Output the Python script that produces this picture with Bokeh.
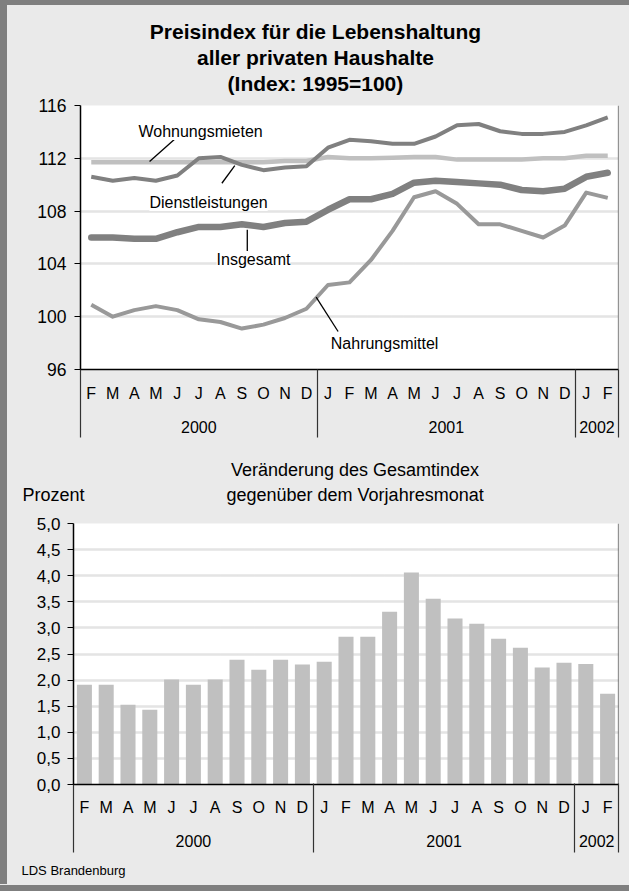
import numpy as np
from bokeh.plotting import figure
from bokeh.models import FixedTicker, LinearAxis, Label, Span, Range1d, Title, Spacer
from bokeh.layouts import column, row
from bokeh.embed import file_html
from bokeh.resources import INLINE

# ---------------- data ----------------
months = ["F", "M", "A", "M", "J", "J", "A", "S", "O", "N", "D",
          "J", "F", "M", "A", "M", "J", "J", "A", "S", "O", "N", "D",
          "J", "F"]
years = ["2000", "2001", "2002"]
months_per_year = [11, 12, 2]

wohnungsmieten = [111.7, 111.7, 111.7, 111.7, 111.7, 111.7, 111.7, 111.7, 111.7, 111.8, 111.8,
                  112.1, 112.0, 112.0, 112.05, 112.1, 112.1, 111.9, 111.9, 111.9, 111.9, 112.0, 112.0,
                  112.2, 112.2]
dienstleistungen = [110.6, 110.3, 110.5, 110.3, 110.7, 112.0, 112.1, 111.5, 111.1, 111.3, 111.4,
                    112.8, 113.4, 113.3, 113.1, 113.1, 113.65, 114.5, 114.6, 114.05, 113.85, 113.85, 114.0,
                    114.5, 115.1]
insgesamt = [106.0, 106.0, 105.9, 105.9, 106.4, 106.8, 106.8, 107.0, 106.8, 107.1, 107.2,
             108.1, 108.9, 108.9, 109.3, 110.15, 110.3, 110.2, 110.1, 110.0, 109.6, 109.5, 109.7,
             110.6, 110.9]
nahrungsmittel = [100.9, 100.0, 100.5, 100.8, 100.5, 99.8, 99.6, 99.1, 99.4, 99.9, 100.6,
                  102.4, 102.6, 104.3, 106.5, 109.05, 109.5, 108.55, 107.0, 107.0, 106.5, 106.0, 106.9,
                  109.4, 109.0]
veraenderung = [1.91, 1.91, 1.53, 1.43, 2.01, 1.91, 2.01, 2.39, 2.20, 2.39, 2.30,
                2.35, 2.83, 2.83, 3.31, 4.06, 3.56, 3.18, 3.08, 2.79, 2.62, 2.24, 2.33,
                2.31, 1.74]

y1_ticks = [96, 100, 104, 108, 112, 116]
y1_tick_labels = ["96", "100", "104", "108", "112", "116"]
y2_ticks = [0.0, 0.5, 1.0, 1.5, 2.0, 2.5, 3.0, 3.5, 4.0, 4.5, 5.0]
y2_tick_labels = ["0,0", "0,5", "1,0", "1,5", "2,0", "2,5", "3,0", "3,5", "4,0", "4,5", "5,0"]

title_lines = ["Preisindex für die Lebenshaltung", "aller privaten Haushalte", "(Index: 1995=100)"]
subtitle_lines = ["Veränderung des Gesamtindex", "gegenüber dem Vorjahresmonat"]
y2_label = "Prozent"
source_note = "LDS Brandenburg"

# ---------------- style ----------------
FONT = "Liberation Sans"
BG = "#eaeaea"
DARK = "#7f7f7f"
GRID = "#c8c8c8"
W = 622          # inner width (page is 629 wide, 7px dark band on the left)
R = 11

n = len(months)
xc = [i + 0.5 for i in range(n)]
bounds = [0.0] + [float(v) for v in np.cumsum(months_per_year)]
year_centers = [float((bounds[i] + bounds[i + 1]) / 2) for i in range(len(years))]


def base_fig(left, frame_h, ymin, ymax, top, bottom):
    p = figure(frame_width=W - left - R, frame_height=frame_h,
               x_range=Range1d(0, n), y_range=Range1d(ymin, ymax),
               output_backend="svg", toolbar_location=None, x_axis_type=None,
               min_border_left=left, min_border_right=R, min_border_top=top,
               min_border_bottom=bottom, background_fill_color="white",
               border_fill_color=BG, outline_line_color=None)
    return p


def add_x_axes(p, month_standoff, year_standoff, sep_in, sep_out):
    ax_m = LinearAxis(ticker=FixedTicker(ticks=xc, minor_ticks=[]),
                      major_label_overrides={x: m for x, m in zip(xc, months)},
                      major_tick_out=0, major_tick_in=0, minor_tick_out=0, minor_tick_in=0,
                      major_tick_line_color=None, minor_tick_line_color=None,
                      axis_line_color="black", axis_line_width=1.5,
                      major_label_standoff=month_standoff,
                      major_label_text_font=FONT, major_label_text_font_size="16px",
                      major_label_text_color="black")
    p.add_layout(ax_m, "below")
    ax_yr = LinearAxis(ticker=FixedTicker(ticks=year_centers, minor_ticks=[]),
                       major_label_overrides={x: y for x, y in zip(year_centers, years)},
                       major_tick_out=0, major_tick_in=0, minor_tick_out=0, minor_tick_in=0,
                       axis_line_color=None, major_tick_line_color=None, minor_tick_line_color=None,
                       major_label_standoff=year_standoff,
                       major_label_text_font=FONT, major_label_text_font_size="16px",
                       major_label_text_color="black")
    p.add_layout(ax_yr, "below")
    # separators between the years: ticks of a label-less axis reaching up to the frame
    ax_sep = LinearAxis(ticker=FixedTicker(ticks=bounds, minor_ticks=[]),
                        major_label_overrides={b: "" for b in bounds},
                        major_tick_out=sep_out, major_tick_in=sep_in,
                        minor_tick_out=0, minor_tick_in=0, minor_tick_line_color=None,
                        major_tick_line_color="#333333", major_tick_line_width=1.2,
                        axis_line_color=None, major_label_standoff=0,
                        major_label_text_font_size="0px")
    p.add_layout(ax_sep, "below")
    p.add_layout(Span(location=n, dimension="height", line_color="#333333", line_width=1.2))


def style_y(p, ticks, labels, standoff, size):
    p.yaxis.ticker = FixedTicker(ticks=ticks, minor_ticks=[])
    p.yaxis.major_label_overrides = {t: l for t, l in zip(ticks, labels)}
    p.yaxis.major_tick_out = 6
    p.yaxis.major_tick_in = 0
    p.yaxis.minor_tick_line_color = None
    p.yaxis.axis_line_color = "black"
    p.yaxis.axis_line_width = 1.5
    p.yaxis.major_tick_line_color = "black"
    p.yaxis.major_tick_line_width = 1.2
    p.yaxis.major_label_standoff = standoff
    p.yaxis.major_label_text_font = FONT
    p.yaxis.major_label_text_font_size = size
    p.yaxis.major_label_text_color = "black"
    p.ygrid.grid_line_color = GRID
    p.ygrid.grid_line_width = 2.5
    p.ygrid.grid_line_dash = "1 1"


def add_text(p, side, text, offset, standoff, size, bold=False):
    p.add_layout(Title(text=text, align="left", offset=offset, standoff=standoff,
                       text_font=FONT, text_font_size=size,
                       text_font_style="bold" if bold else "normal",
                       text_color="black"), side)


# ---------------- top chart ----------------
p1 = base_fig(73, 264, 96, 116, 100, 142)
style_y(p1, y1_ticks, y1_tick_labels, 8, "17.5px")
add_x_axes(p1, 15, 16, 66, 2)

# main title (innermost line first); offsets centre each line on the page
add_text(p1, "above", title_lines[2], 147.1, 20.5, "21px", bold=True)
add_text(p1, "above", title_lines[1], 116.5, -19.5, "21px", bold=True)
add_text(p1, "above", title_lines[0], 69.3, 20.5, "21px", bold=True)

p1.line(xc, wohnungsmieten, line_color="#c0c0c0", line_width=4.5, line_join="round")
p1.line(xc, dienstleistungen, line_color="#808080", line_width=4, line_join="round")
p1.line(xc, nahrungsmittel, line_color="#999999", line_width=4, line_join="round")
p1.line(xc, insgesamt, line_color="#808080", line_width=6.5, line_join="round", line_cap="round")

# series labels with leader lines (positions in data units)
lab_text = ["Wohnungsmieten", "Dienstleistungen", "Insgesamt", "Nahrungsmittel"]
lab_x = [5.58, 5.95, 8.04, 14.13]
lab_y = [114.03, 108.65, 104.33, 98.0]
lead_x0 = [4.45, 7.17, 7.75, 10.95]
lead_y0 = [113.55, 111.45, 106.58, 101.48]
lead_x1 = [3.21, 6.57, 7.75, 11.97]
lead_y1 = [111.76, 110.11, 104.96, 98.88]
p1.segment(x0=lead_x0, y0=lead_y0, x1=lead_x1, y1=lead_y1, line_color="black", line_width=1.3)
for t, x, y in zip(lab_text, lab_x, lab_y):
    p1.add_layout(Label(x=x, y=y, text=t, text_align="center", text_baseline="middle",
                        text_font=FONT, text_font_size="16px", text_color="black",
                        background_fill_color="white"))

# heading of the lower chart, placed under the top chart's axes
add_text(p1, "below", subtitle_lines[0], 150.4, -84.9, "18px")
add_text(p1, "below", subtitle_lines[1], 146, -134.9, "18px")
add_text(p1, "below", y2_label, -58, -134.9, "18px")

# ---------------- bottom chart ----------------
p2 = base_fig(66, 261, 0, 5, 12, 100)
style_y(p2, y2_ticks, y2_tick_labels, 7, "17px")
add_x_axes(p2, 14, 16, 66, 3)

p2.vbar(x=xc, top=veraenderung, width=0.69, fill_color="#c0c0c0", line_color=None)

add_text(p2, "below", source_note, -52, 15.5, "13px")

inner = column(p1, row(p2, spacing=0, styles={"background-color": BG}), spacing=0,
               styles={"background-color": BG})
layout = column(
    Spacer(width=W + 7, height=5, styles={"background-color": DARK}),
    row(Spacer(width=7, height=879, styles={"background-color": DARK}), inner, spacing=0,
        styles={"background-color": BG}),
    Spacer(width=W + 7, height=7, styles={"background-color": DARK}),
    spacing=0)

open("out.html", "w").write(file_html(layout, INLINE))
